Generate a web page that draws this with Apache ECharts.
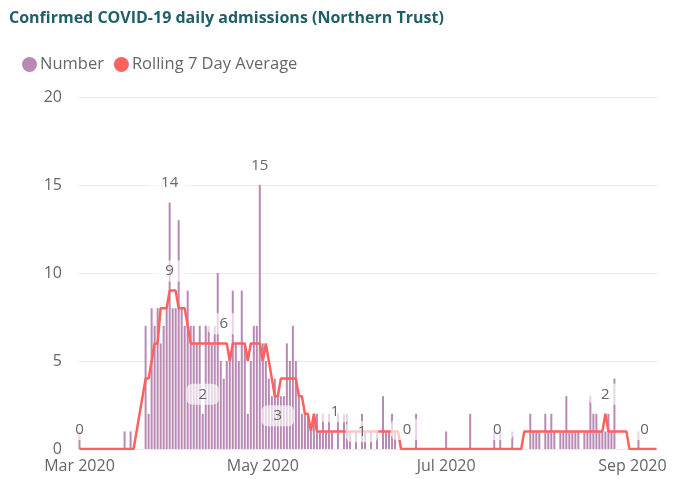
<!DOCTYPE html>
<html>
<head>
<meta charset="utf-8">
<script src="https://cdn.jsdelivr.net/npm/echarts@6/dist/echarts.min.js"></script>
<style>
  html, body { margin: 0; padding: 0; background: #fff; }
  #chart { width: 681px; height: 479px; }
</style>
</head>
<body>
<div id="chart"></div>
<script>
// daily admissions, 1 Mar 2020 onwards (one value per day)
let startDate = '2020-03-01'
let numberData = [
  1, 0, 0, 0, 0, 0, 0, 0, 0, 0,
  0, 0, 0, 0, 0, 1, 0, 1, 0, 0,
  0, 0, 7, 2, 8, 7, 8, 6, 7, 8,
  14, 8, 8, 13, 8, 7, 9, 7, 7, 6,
  7, 2, 7, 7, 6, 7, 10, 5, 4, 5,
  5, 9, 6, 5, 9, 6, 2, 5, 7, 7,
  15, 6, 5, 4, 3, 4, 3, 3, 3, 6,
  5, 7, 5, 3, 2, 2, 2, 1, 2, 2,
  1, 2, 1, 2, 1, 0, 2, 0, 2, 2,
  1, 0, 1, 0, 2, 1, 0, 1, 0, 1,
  0, 3, 1, 1, 2, 1, 0, 0, 0, 0,
  0, 0, 2, 0, 0, 0, 0, 0, 0, 0,
  0, 0, 1, 0, 0, 0, 0, 0, 0, 0,
  2, 0, 0, 0, 0, 0, 0, 0, 1, 0,
  1, 0, 0, 0, 1, 0, 0, 0, 0, 0,
  2, 1, 1, 1, 0, 2, 1, 2, 1, 0,
  1, 1, 3, 1, 1, 1, 1, 0, 1, 1,
  3, 2, 2, 1, 1, 1, 2, 1, 4, 0,
  0, 0, 0, 0, 0, 0, 1, 0, 0, 0,
  0, 0, 0
]
let rollingData = [
  0, 0, 0, 0, 0, 0, 0, 0, 0, 0,
  0, 0, 0, 0, 0, 0, 0, 0, 0, null,
  null, null, 4, 4, 5, 6, 6, 8, 8, 8,
  9, 9, 9, 8, 8, 8, 7, 6, 6, 6,
  6, 6, 6, 6, 6, 6, 6, 6, 6, 6,
  5, 6, 6, 6, 6, 6, 5, 6, 6, 6,
  6, 5, 6, 5, 4, 3, 3, 4, 4, 4,
  4, 4, 4, 3, 3, 2, 2, 1, 2, 1,
  1, 1, 1, 1, 1, 1, 1, 1, 1, 1,
  1, 1, 1, 1, 1, 1, 1, 1, 1, 1,
  1, 1, 1, 1, 1, 1, 1, 0, 0, 0,
  0, 0, 0, 0, 0, 0, 0, 0, 0, 0,
  0, 0, 0, 0, 0, 0, 0, 0, 0, 0,
  0, 0, 0, 0, 0, 0, 0, 0, 0, 0,
  0, 0, 0, 0, 0, 0, 0, 0, 1, 1,
  1, 1, 1, 1, 1, 1, 1, 1, 1, 1,
  1, 1, 1, 1, 1, 1, 1, 1, 1, 1,
  1, 1, 1, 1, 1, 2, 1, 1, 1, 1,
  1, 1, 1, 0, 0, 0, 0, 0, 0, 0,
  0, 0, 0
]
let yTicks = [0, 5, 10, 15, 20]
let monthNames = ['Jan', 'Feb', 'Mar', 'Apr', 'May', 'Jun', 'Jul', 'Aug', 'Sep', 'Oct', 'Nov', 'Dec']

// which points carry a data label (Power BI picks a few)
let barLabelAt = { 30: 'top', 41: 'top', 60: 'top' }
let lineLabelAt = { 0: 'top', 30: 'top', 48: 'top', 66: 'bottom', 85: 'top', 94: 'inside', 109: 'top', 139: 'top', 175: 'top', 188: 'top' }
let labelShift = { 0: [9, 0] }

let dates = []
let d0 = new Date(startDate + 'T00:00:00Z')
for (let i = 0; i < numberData.length; i++) {
  let d = new Date(d0.getTime() + i * 86400000)
  dates.push(d.toISOString().slice(0, 10))
}

let font = '"Open Sans", "Noto Sans", sans-serif'
let labelStyle = {
  show: true,
  color: '#666',
  fontSize: 15,
  fontFamily: font,
  backgroundColor: 'rgba(255,255,255,0.65)',
  borderRadius: 6,
  padding: [3, 12],
  distance: 9
}

function withLabels(values, labelAt) {
  return values.map(function(v, i) {
    if (labelAt[i] === undefined || v === null) return v
    let lbl = Object.assign({}, labelStyle, { position: labelAt[i] })
    if (labelShift[i]) lbl.offset = labelShift[i]
    return { value: v, label: lbl }
  })
}

let myChart = echarts.init(document.getElementById('chart'))
let option = {
  animation: false,
  title: {
    text: 'Confirmed COVID-19 daily admissions (Northern Trust)',
    left: 4,
    top: 5,
    textStyle: { color: '#1f5f68', fontSize: 16, fontWeight: 'bold', fontFamily: font }
  },
  legend: {
    left: 17,
    top: 51,
    icon: 'circle',
    itemWidth: 15,
    itemHeight: 15,
    itemGap: 10,
    textStyle: { color: '#666', fontSize: 16.5, fontFamily: font, padding: [0, 0, 0, -2] },
    data: ['Number', 'Rolling 7 Day Average']
  },
  grid: { left: 78, right: 23, top: 97, bottom: 30 },
  xAxis: {
    type: 'category',
    data: dates,
    axisLine: { show: false },
    axisTick: { show: false },
    axisLabel: {
      color: '#666',
      fontSize: 16,
      fontFamily: font,
      margin: 9,
      interval: function(index, value) {
        let m = +value.slice(5, 7)
        return value.slice(8) === '01' && m % 2 === 1
      },
      formatter: function(value) {
        return monthNames[+value.slice(5, 7) - 1] + ' ' + value.slice(0, 4)
      }
    }
  },
  yAxis: {
    type: 'value',
    min: yTicks[0],
    max: yTicks[yTicks.length - 1],
    interval: 5,
    axisLine: { show: false },
    axisTick: { show: false },
    axisLabel: { color: '#666', fontSize: 16, fontFamily: font, margin: 16 },
    splitLine: { lineStyle: { color: '#eaeaea' } }
  },
  series: [
    {
      name: 'Number',
      type: 'bar',
      barWidth: 2,
      itemStyle: { color: '#b889b4' },
      data: withLabels(numberData, barLabelAt)
    },
    {
      name: 'Rolling 7 Day Average',
      type: 'line',
      symbol: 'circle',
      symbolSize: 0.1,
      showSymbol: true,
      connectNulls: true,
      itemStyle: { color: '#fd625e' },
      lineStyle: { color: '#fd625e', width: 2.5 },
      labelLayout: { hideOverlap: false },
      data: withLabels(rollingData, lineLabelAt)
    }
  ]
}
myChart.setOption(option)
window.addEventListener('resize', function() {
  myChart.resize()
})
</script>
</body>
</html>
